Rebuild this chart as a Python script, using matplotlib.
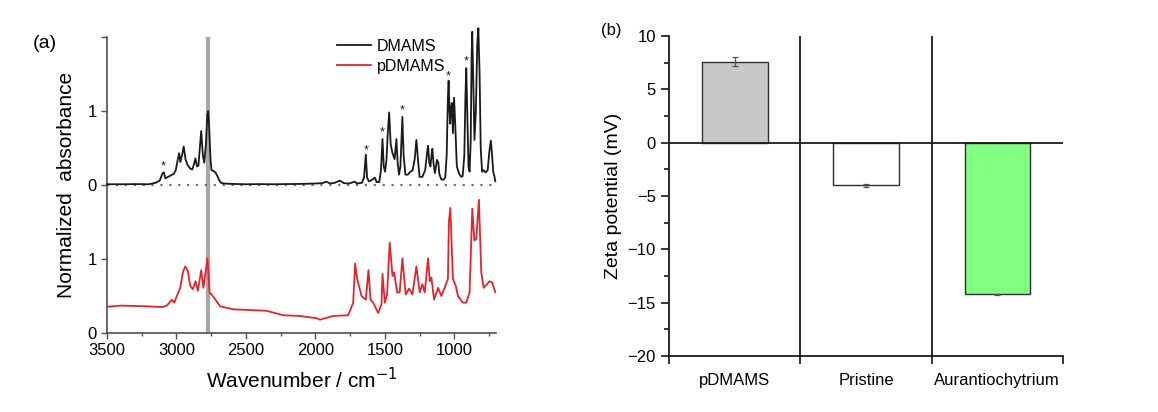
import matplotlib
matplotlib.use("Agg")
import matplotlib.pyplot as plt
from matplotlib.ticker import MultipleLocator, FixedLocator

plt.rcParams['font.family'] = ['Liberation Sans', 'DejaVu Sans']

# ---------------- Panel (a) data: FTIR spectra ----------------
wn_dmams = [3500, 3400, 3300, 3200, 3150, 3120, 3100, 3090, 3080, 3060, 3040, 3020, 3005, 2992, 2981,
            2972, 2958, 2948, 2935, 2920, 2900, 2886, 2874, 2864, 2852, 2842, 2832, 2822, 2810, 2800,
            2788, 2778, 2772, 2765, 2755, 2748, 2735, 2720, 2705, 2694, 2680, 2660, 2600, 2500, 2400,
            2300, 2200, 2100, 2000, 1950, 1920, 1895, 1860, 1824, 1795, 1760, 1716, 1700, 1665, 1650,
            1637, 1628, 1615, 1600, 1585, 1572, 1560, 1540, 1528, 1517, 1508, 1498, 1488, 1479, 1469,
            1458, 1445, 1430, 1417, 1408, 1398, 1388, 1374, 1365, 1352, 1335, 1316, 1300, 1285, 1273,
            1262, 1250, 1230, 1210, 1195, 1189, 1180, 1172, 1163, 1158, 1150, 1140, 1132, 1125, 1115,
            1108, 1095, 1080, 1065, 1055, 1046, 1041, 1035, 1030, 1024, 1018, 1010, 1002, 993, 982,
            965, 950, 940, 928, 920, 914, 907, 898, 890, 882, 876, 871, 864, 855, 845,
            835, 827, 818, 810, 800, 790, 775, 760, 748, 737, 728, 720, 712, 705]
abs_dmams = [0.01, 0.01, 0.012, 0.01, 0.03, 0.06, 0.16, 0.17, 0.09, 0.11, 0.13, 0.15, 0.2, 0.33, 0.43,
             0.31, 0.42, 0.52, 0.35, 0.27, 0.22, 0.21, 0.28, 0.36, 0.25, 0.26, 0.5, 0.73, 0.4, 0.3,
             0.55, 0.95, 1.0, 0.8, 0.35, 0.2, 0.19, 0.17, 0.12, 0.07, 0.03, 0.02, 0.015, 0.01, 0.012,
             0.01, 0.012, 0.015, 0.02, 0.025, 0.045, 0.02, 0.03, 0.06, 0.025, 0.02, 0.045, 0.02, 0.03, 0.1,
             0.41, 0.1, 0.05, 0.06, 0.08, 0.1, 0.04, 0.04, 0.2, 0.62, 0.25, 0.18, 0.35, 0.7, 0.98,
             0.55, 0.43, 0.35, 0.62, 0.3, 0.14, 0.25, 0.92, 0.4, 0.14, 0.14, 0.18, 0.2, 0.35, 0.61,
             0.35, 0.11, 0.11, 0.2, 0.45, 0.53, 0.3, 0.25, 0.42, 0.49, 0.3, 0.16, 0.25, 0.34, 0.3,
             0.15, 0.08, 0.07, 0.1, 0.4, 1.2, 1.41, 1.0, 0.83, 1.05, 1.11, 0.7, 1.18, 0.8, 0.25,
             0.15, 0.11, 0.12, 0.4, 1.2, 1.58, 1.0, 0.25, 0.18, 0.6, 1.7, 2.07, 1.4, 0.61, 1.0,
             1.9, 2.12, 1.5, 0.5, 0.18, 0.2, 0.17, 0.2, 0.45, 0.6, 0.4, 0.18, 0.12, 0.05]

wn_pdmams = [3500, 3399, 3201, 3100, 3069, 3033, 3016, 2997, 2973, 2954, 2937, 2918, 2901, 2882, 2863,
             2846, 2822, 2806, 2777, 2762, 2734, 2686, 2590, 2351, 2231, 2111, 1991, 1967, 1872, 1764,
             1728, 1714, 1699, 1668, 1637, 1618, 1603, 1584, 1548, 1524, 1517, 1500, 1484, 1465, 1445,
             1433, 1412, 1393, 1374, 1350, 1326, 1302, 1273, 1249, 1230, 1213, 1189, 1177, 1165, 1146,
             1117, 1093, 1046, 1039, 1029, 1010, 990, 974, 938, 914, 890, 871, 856, 842, 823,
             806, 789, 746, 727, 705]
abs_pdmams = [0.355, 0.37, 0.36, 0.35, 0.37, 0.45, 0.41, 0.5, 0.61, 0.82, 0.9, 0.84, 0.64, 0.59, 0.70,
              0.57, 0.85, 0.61, 1.01, 0.55, 0.49, 0.36, 0.32, 0.30, 0.24, 0.23, 0.2, 0.18, 0.23, 0.24,
              0.41, 0.94, 0.73, 0.5, 0.45, 0.85, 0.45, 0.41, 0.27, 0.39, 0.8, 0.41, 0.52, 1.22, 0.77,
              0.82, 0.55, 0.55, 1.01, 0.52, 0.6, 0.52, 0.9, 0.55, 0.66, 0.55, 1.01, 0.7, 0.75, 0.45,
              0.61, 0.5, 0.73, 1.5, 1.69, 0.73, 0.64, 0.5, 0.41, 0.41, 0.55, 1.68, 1.25, 1.27, 1.8,
              0.82, 0.61, 0.7, 0.68, 0.55]

top_offset = 2.0
star_wn = [3093, 1637, 1517, 1374, 1041, 914]
star_val = [0.25, 0.47, 0.71, 1.01, 1.47, 1.67]
marker_wn = 2772
series_labels = ['DMAMS', 'pDMAMS']
ytick_vals = [0, 1, 2, 3, 4]
ytick_labels = ['0', '1', '0', '1', '']

# ---------------- Panel (b) data: zeta potential ----------------
categories = ['pDMAMS', 'Pristine', 'Aurantiochytrium']
zeta = [7.6, -4.0, -14.2]
zeta_err = [0.45, 0.15, 0.05]
bar_colors = ['#c8c8c8', '#ffffff', '#80ff80']

fig = plt.figure(figsize=(11.58, 4.12), dpi=100)

# ---------------- Panel (a) ----------------
axa = fig.add_axes([107/1158, 1 - 333/412, 389/1158, 296/412])
axa.axvline(marker_wn, color='#a8a8a8', lw=3, zorder=1)
axa.plot([3500, 700], [top_offset, top_offset], color='#707070', lw=1.6,
         linestyle=(0, (1, 3)), zorder=1)
axa.plot(wn_dmams, [v + top_offset for v in abs_dmams], color='#1a1a1a', lw=1.3,
         label=series_labels[0], clip_on=False, zorder=3, solid_joinstyle='round')
axa.plot(wn_pdmams, abs_pdmams, color='#e3242b', lw=1.3, label=series_labels[1], zorder=3,
         solid_joinstyle='round')
for w, v in zip(star_wn, star_val):
    axa.text(w, v + top_offset, '*', ha='center', va='center', fontsize=9, color='#1a1a1a')
axa.set_xlim(3500, 700)
axa.set_ylim(0, 4)
axa.set_yticks(ytick_vals)
axa.set_yticklabels(ytick_labels)
axa.xaxis.set_major_locator(FixedLocator([3500, 3000, 2500, 2000, 1500, 1000]))
axa.xaxis.set_minor_locator(MultipleLocator(250))
for s in ['top', 'right']:
    axa.spines[s].set_visible(False)
for s in ['left', 'bottom']:
    axa.spines[s].set_color('#505050')
    axa.spines[s].set_linewidth(1.2)
axa.tick_params(axis='both', which='major', direction='out', length=4, width=1,
                color='#505050', labelsize=12)
axa.tick_params(axis='x', which='minor', direction='out', length=2.5, width=1, color='#505050')
axa.set_xlabel('Wavenumber / cm$^{-1}$', fontsize=15, labelpad=6)
axa.set_ylabel('Normalized  absorbance', fontsize=15, labelpad=8)
leg = axa.legend(loc='upper left', bbox_to_anchor=(0.575, 1.015), frameon=False, fontsize=11.5,
                 handlelength=2.1, handletextpad=0.4, labelspacing=0.3, borderaxespad=0)
fig.text(45/1158, 1 - 44/412, '(a)', fontsize=14, ha='center', va='center')

# ---------------- Panel (b) ----------------
axb = fig.add_axes([669/1158, 1 - 356/412, 394/1158, 320/412])
xpos = [0.5, 1.5, 2.5]
axb.bar(xpos, zeta, width=0.5, color=bar_colors, edgecolor='#303030', linewidth=1, zorder=2)
axb.errorbar(xpos, zeta, yerr=zeta_err, fmt='none', ecolor='#555555', elinewidth=0.9,
             capsize=2.5, capthick=0.9, zorder=3)
axb.axhline(0, color='#1a1a1a', lw=1.3, zorder=4)
for sep in [1, 2]:
    axb.axvline(sep, color='#1a1a1a', lw=1.3, zorder=4)
axb.set_xlim(0, 3)
axb.set_ylim(-20, 10)
axb.yaxis.set_major_locator(MultipleLocator(5))
axb.yaxis.set_minor_locator(MultipleLocator(2.5))
axb.set_xticks([0, 1, 2, 3])
axb.set_xticklabels([])
axb.set_xticks(xpos, minor=True)
axb.set_xticklabels(categories, minor=True)
for s in ['top', 'right']:
    axb.spines[s].set_visible(False)
for s in ['left', 'bottom']:
    axb.spines[s].set_color('#1a1a1a')
    axb.spines[s].set_linewidth(1.3)
axb.tick_params(axis='y', which='major', direction='out', length=6, width=1.1, labelsize=12)
axb.tick_params(axis='y', which='minor', direction='out', length=3.5, width=1.1)
axb.tick_params(axis='x', which='major', direction='out', length=6, width=1.1)
axb.tick_params(axis='x', which='minor', length=0, labelsize=12, pad=12)
axb.set_ylabel('Zeta potential (mV)', fontsize=14, labelpad=4)
fig.text(611/1158, 1 - 30/412, '(b)', fontsize=12, ha='center', va='center')

fig.savefig('out.png', dpi=100)
